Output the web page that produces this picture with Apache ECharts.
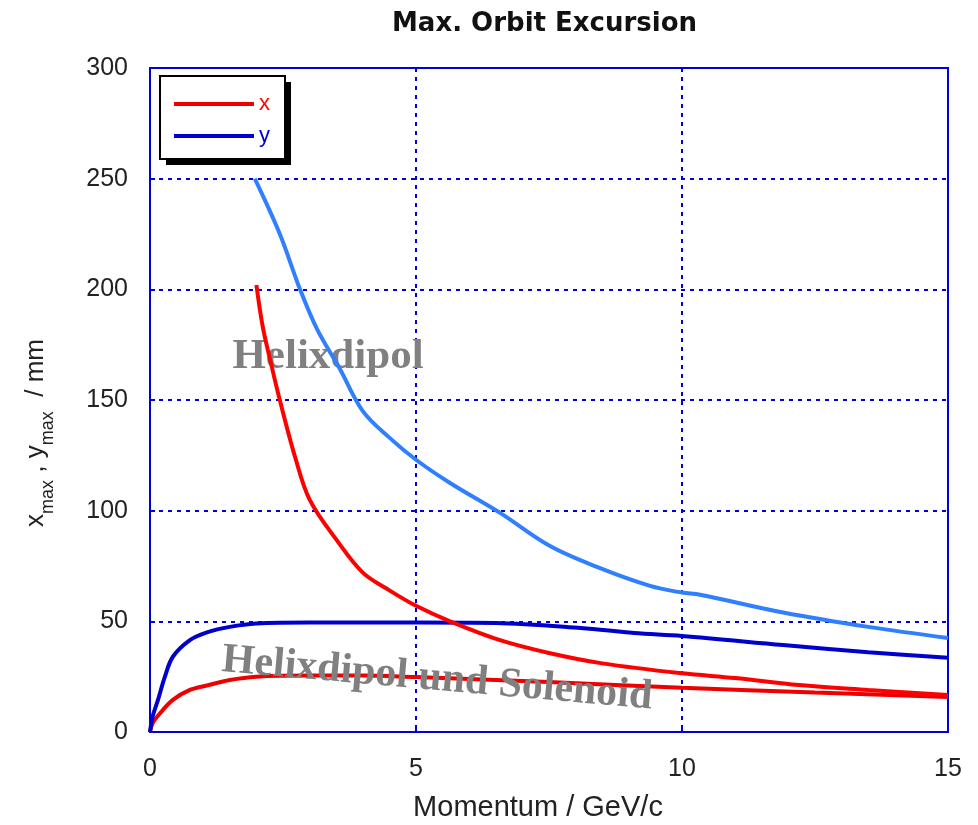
<!DOCTYPE html>
<html>
<head>
<meta charset="utf-8">
<script src="https://cdn.jsdelivr.net/npm/echarts@6/dist/echarts.min.js"></script>
<style>
    html, body { margin: 0; padding: 0; background: #fff; }
    #chart { width: 978px; height: 825px; }
</style>
</head>
<body>
<div id="chart"></div>
<script>
// momentum (GeV/c) and max excursion (mm)
var solX_p = [0, 0.05, 0.19, 0.43, 0.75, 1.07, 1.5, 2, 3, 4, 5, 6, 7.5, 10, 12.5, 15];
var solX = [0, 4, 8.5, 14.5, 19, 21, 23.5, 25, 25.5, 25.5, 24.8, 24, 22.6, 20, 17.8, 15.8];

var solY_p = [0, 0.05, 0.15, 0.28, 0.43, 0.75, 1.07, 1.5, 2, 3, 5, 6.5, 8.1, 9.1, 10, 11.9, 13.5, 15];
var solY = [0, 7, 14.5, 25, 34, 41.5, 45, 47.5, 49, 49.5, 49.5, 49.3, 47, 44.7, 43.4, 39.3, 36, 33.5];

var helixX_p = [2, 2.12, 2.26, 2.44, 2.73, 3, 3.5, 4, 4.5, 5, 5.64, 6.58, 7.5, 8.5, 10, 11, 12.2, 13.5, 15];
var helixX = [202, 183, 168, 150, 124, 105, 87, 72, 64, 57, 50, 41.5, 35.7, 31, 26.5, 24.4, 21.2, 19, 16.7];

var helixY_p = [1.97, 2.44, 2.82, 3.14, 3.57, 4, 4.5, 5, 5.64, 6.58, 7.52, 8.46, 9.4, 10, 10.34, 11.9, 13.5, 15];
var helixY = [250, 225, 200, 182, 164, 145, 133, 123, 112.5, 99, 84, 74, 66, 63, 62, 54, 47.5, 42.5];

var xTicks = [0, 5, 10, 15];
var yTicks = [0, 50, 100, 150, 200, 250, 300];

function pairs(p, v) {
    return p.map(function (x, i) { return [x, v[i]]; });
}

var gridBlue = '#0000dd';
var chart = echarts.init(document.getElementById('chart'));

function lineSeries(name, p, v, color) {
    return {
        name: name,
        type: 'line',
        data: pairs(p, v),
        showSymbol: false,
        smooth: 0.35,
        color: color,
        lineStyle: { width: 4, color: color },
        z: 3
    };
}

chart.setOption({
    animation: false,
    title: {
        text: 'Max. Orbit Excursion',
        left: 387,
        top: 6,
        textStyle: { fontFamily: 'DejaVu Sans', fontWeight: 'bold', fontSize: 26, color: '#111' }
    },
    grid: {
        left: 150, right: 30, top: 68, bottom: 93,
        outerBoundsMode: 'none',
        show: true, borderColor: gridBlue, borderWidth: 2
    },
    legend: {
        orient: 'vertical',
        left: 160,
        top: 76,
        padding: [17, 14, 17, 14],
        itemWidth: 80,
        itemHeight: 4,
        itemGap: 10,
        icon: 'rect',
        textStyle: { fontFamily: 'Liberation Sans', fontSize: 22 },
        data: [
            { name: 'x', textStyle: { color: '#ff0000' } },
            { name: 'y', textStyle: { color: '#0000cc' } }
        ]
    },
    xAxis: {
        type: 'value',
        min: 0, max: 15, interval: 5,
        name: 'Momentum / GeV/c',
        nameLocation: 'middle',
        nameGap: 61,
        nameTextStyle: { fontFamily: 'Liberation Sans', fontSize: 29, color: '#222', padding: [0, 22, 0, 0] },
        axisLine: { show: true, lineStyle: { color: gridBlue, width: 2 } },
        axisTick: { show: true, inside: true, length: 5, lineStyle: { color: gridBlue, width: 2 } },
        axisLabel: {
            margin: 25, fontFamily: 'Liberation Sans', fontSize: 25, color: '#222',
            formatter: function (v) { return xTicks.indexOf(v) >= 0 ? String(v) : ''; }
        },
        splitLine: { show: true, lineStyle: { color: gridBlue, width: 2, type: [4, 5] } }
    },
    yAxis: {
        type: 'value',
        min: 0, max: 300, interval: 50,
        axisLine: { show: true, lineStyle: { color: gridBlue, width: 2 } },
        axisTick: { show: true, inside: true, length: 5, lineStyle: { color: gridBlue, width: 2 } },
        axisLabel: {
            margin: 22, fontFamily: 'Liberation Sans', fontSize: 25, color: '#222',
            formatter: function (v) { return yTicks.indexOf(v) >= 0 ? String(v) : ''; }
        },
        splitLine: { show: true, lineStyle: { color: gridBlue, width: 2, type: [4, 5] } }
    },
    series: [
        lineSeries('x', solX_p, solX, '#ee0000'),
        lineSeries('y', solY_p, solY, '#0000cc'),
        lineSeries('x', helixX_p, helixX, '#ff0000'),
        lineSeries('y', helixY_p, helixY, '#2f7fff')
    ],
    graphic: [
        // legend frame with hard drop shadow
        {
            type: 'rect', z: 0,
            shape: { x: 166, y: 82, width: 125, height: 83 },
            style: { fill: '#000' }
        },
        {
            type: 'rect', z: 1,
            shape: { x: 160, y: 76, width: 125, height: 83 },
            style: { fill: '#fff', stroke: '#000', lineWidth: 2 }
        },
        {
            type: 'text',
            x: 40, y: 433,
            rotation: Math.PI / 2,
            style: {
                text: '{a|x}{s|max}{a| , y}{s|max}{a|  / mm}',
                align: 'center',
                verticalAlign: 'middle',
                fill: '#222',
                rich: {
                    a: { fontFamily: 'Liberation Sans', fontSize: 26, verticalAlign: 'bottom', padding: [0, 0, 9, 0] },
                    s: { fontFamily: 'Liberation Sans', fontSize: 18, verticalAlign: 'bottom' }
                }
            }
        },
        {
            type: 'text',
            x: 328, y: 357,
            z: 1,
            style: {
                text: 'Helixdipol',
                align: 'center',
                verticalAlign: 'middle',
                fill: '#808080',
                font: 'bold 43px "Liberation Serif"'
            }
        },
        {
            type: 'text',
            x: 437, y: 679,
            rotation: -0.087,
            z: 10,
            style: {
                text: 'Helixdipol und Solenoid',
                align: 'center',
                verticalAlign: 'middle',
                fill: '#808080',
                font: 'bold 42px "Liberation Serif"'
            }
        }
    ]
});
</script>
</body>
</html>
